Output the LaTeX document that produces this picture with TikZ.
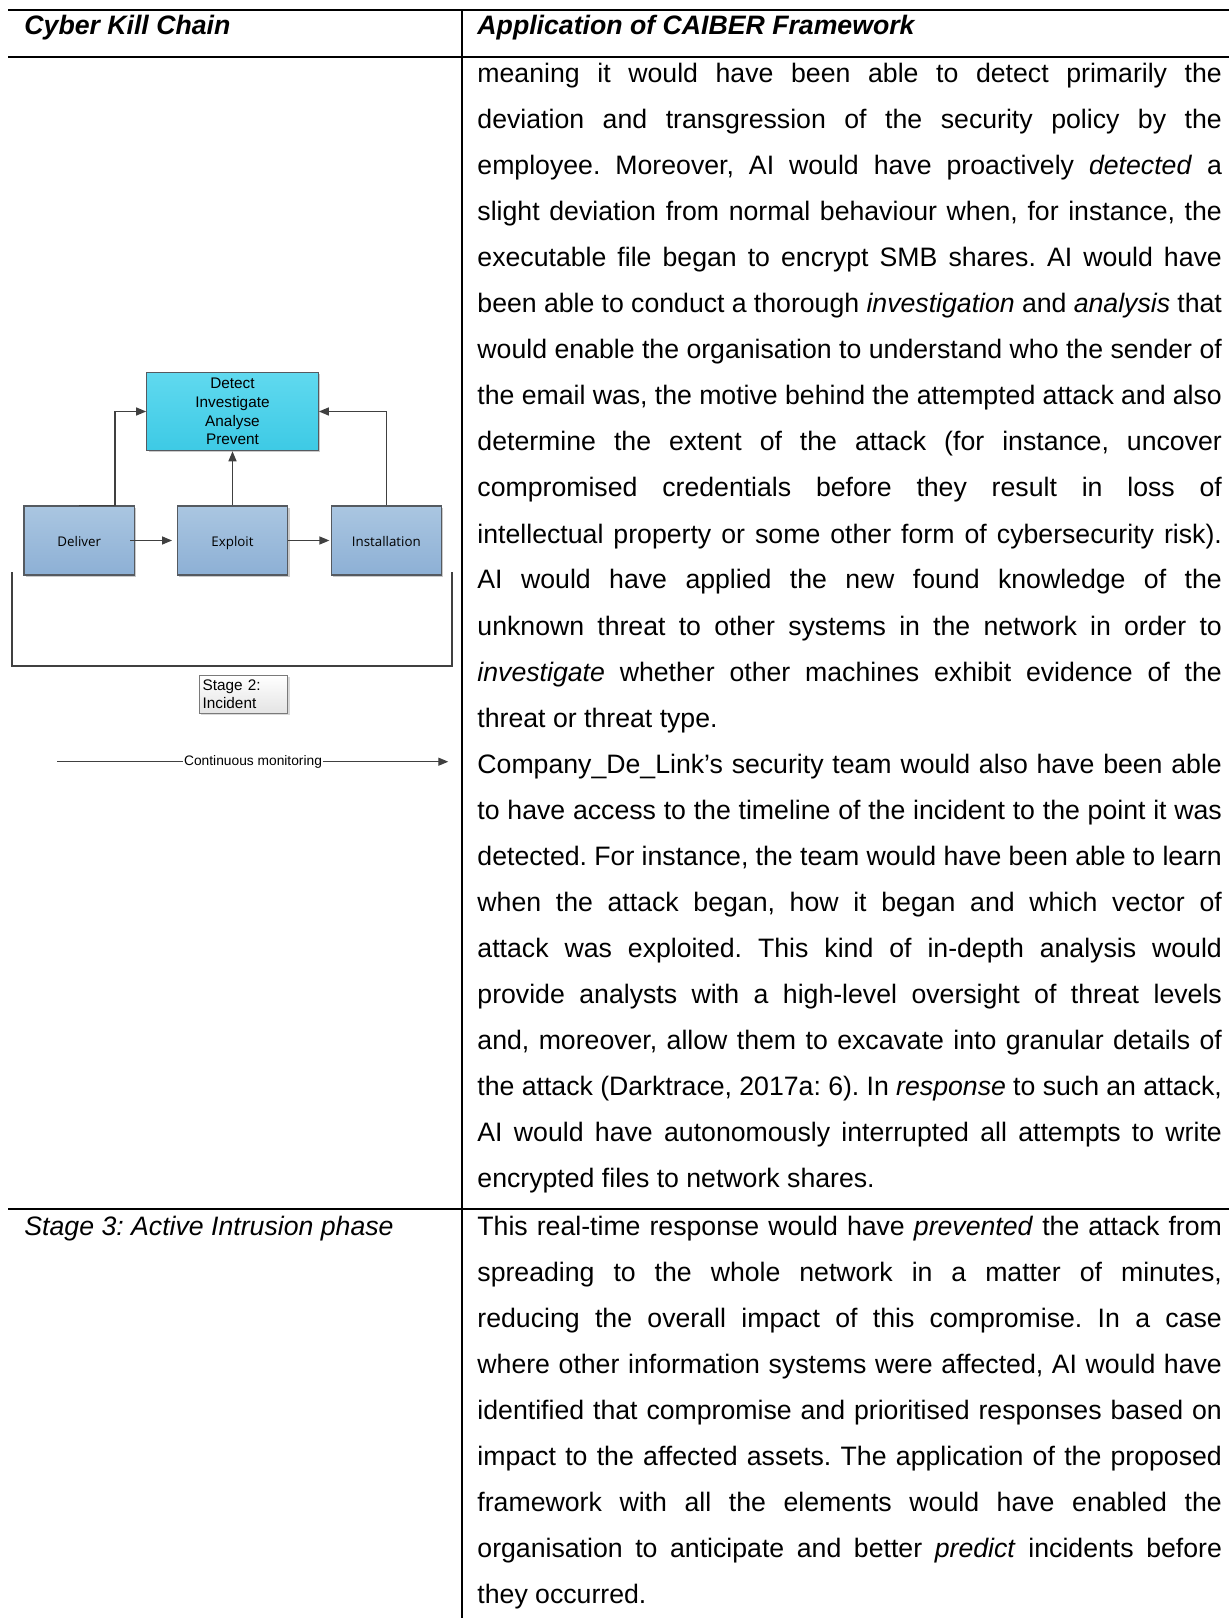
\documentclass[tikz,border=0pt]{standalone}
\usepackage{fontspec}
\setmainfont{Liberation Sans}
\newfontfamily\shapefont{Open Sans}
\usetikzlibrary{arrows.meta,shadows}

\definecolor{rulecol}{HTML}{000000}
\definecolor{linkcol}{HTML}{404040}
\definecolor{stepTop}{HTML}{AAC6E1}
\definecolor{stepBot}{HTML}{8DB0D5}
\definecolor{stepEdge}{HTML}{555A60}
\definecolor{coreTop}{HTML}{60D9EF}
\definecolor{coreBot}{HTML}{3DCAE5}
\definecolor{noteBot}{HTML}{E4E4E4}
\definecolor{noteEdge}{HTML}{7A7A7A}

% width of the justified text column
\newlength\colw
\setlength\colw{335pt}
\newcommand\jline[1]{\makebox[\colw][s]{#1}}
\frenchspacing

\tikzset{
  tablerule/.style={draw=rulecol, line width=0.8pt},
  body/.style={anchor=base west, inner sep=0pt, font=\fontsize{12}{14}\selectfont},
  stepbox/.style={draw=stepEdge, line width=0.5pt, top color=stepTop, bottom color=stepBot,
    minimum width=49.7pt, minimum height=31pt, inner sep=0pt,
    text height=6.5pt, text depth=1.2pt,
    font=\shapefont\fontsize{6}{7}\selectfont,
    drop shadow={shadow xshift=0.8pt, shadow yshift=-0.8pt, opacity=0.35, fill=black!60}},
  corebox/.style={draw=stepEdge, line width=0.5pt, top color=coreTop, bottom color=coreBot,
    minimum width=77.2pt, minimum height=35.3pt, inner sep=0pt, align=center,
    font=\fontsize{6.9}{8.46}\selectfont,
    drop shadow={shadow xshift=0.8pt, shadow yshift=-0.8pt, opacity=0.35, fill=black!60}},
  notebox/.style={draw=noteEdge, line width=0.5pt, top color=white, bottom color=noteBot,
    text width=36.8pt, inner xsep=1.5pt, inner ysep=0pt, minimum height=17.1pt, align=left,
    font=\fontsize{6.9}{8}\selectfont,
    drop shadow={shadow xshift=0.8pt, shadow yshift=-0.8pt, opacity=0.3, fill=black!50}},
  link/.style={draw=linkcol, line width=0.6pt, -{Triangle[length=4.5pt,width=3.6pt]}},
  frame/.style={draw=linkcol, line width=0.6pt},
}

\begin{document}
\begin{tikzpicture}[x=0.45pt, y=-0.45pt]
\useasboundingbox (0,0) rectangle (1229,1618);

% ---------- table rules ----------
\draw[tablerule] (8,10) -- (1229,10);
\draw[tablerule] (8,56.7) -- (1229,56.7);
\draw[tablerule] (8,1209.3) -- (1229,1209.3);
\draw[tablerule] (462,10) -- (462,1618);

% ---------- header ----------
\node[body, font=\fontsize{12}{14}\selectfont\bfseries\itshape] (hLeft) at (24,35) {Cyber Kill Chain};
\node[body, font=\fontsize{12}{14}\selectfont\bfseries\itshape] (hRight) at (477,35) {Application of CAIBER Framework};

% ---------- stage 2 text ----------
\node[body] (t01) at (477,83)   {\jline{meaning it would have been able to detect primarily the}};
\node[body] (t02) at (477,129)  {\jline{deviation and transgression of the security policy by the}};
\node[body] (t03) at (477,175)  {\jline{employee. Moreover, AI would have proactively \textit{detected} a}};
\node[body] (t04) at (477,221)  {\jline{slight deviation from normal behaviour when, for instance, the}};
\node[body] (t05) at (477,267)  {\jline{executable file began to encrypt SMB shares. AI would have}};
\node[body] (t06) at (477,313)  {\jline{been able to conduct a thorough \textit{investigation} and \textit{analysis} that}};
\node[body] (t07) at (477,359)  {\jline{would enable the organisation to understand who the sender of}};
\node[body] (t08) at (477,405)  {\jline{the email was, the motive behind the attempted attack and also}};
\node[body] (t09) at (477,451)  {\jline{determine the extent of the attack (for instance, uncover}};
\node[body] (t10) at (477,497)  {\jline{compromised credentials before they result in loss of}};
\node[body] (t11) at (477,543)  {\jline{intellectual property or some other form of cybersecurity risk).}};
\node[body] (t12) at (477,589)  {\jline{AI would have applied the new found knowledge of the}};
\node[body] (t13) at (477,635)  {\jline{unknown threat to other systems in the network in order to}};
\node[body] (t14) at (477,681)  {\jline{\textit{investigate} whether other machines exhibit evidence of the}};
\node[body] (t15) at (477,727)  {threat or threat type.};
\node[body] (t16) at (477,773)  {\jline{Company\_De\_Link’s security team would also have been able}};
\node[body] (t17) at (477,819)  {\jline{to have access to the timeline of the incident to the point it was}};
\node[body] (t18) at (477,865)  {\jline{detected. For instance, the team would have been able to learn}};
\node[body] (t19) at (477,911)  {\jline{when the attack began, how it began and which vector of}};
\node[body] (t20) at (477,957)  {\jline{attack was exploited. This kind of in-depth analysis would}};
\node[body] (t21) at (477,1003) {\jline{provide analysts with a high-level oversight of threat levels}};
\node[body] (t22) at (477,1049) {\jline{and, moreover, allow them to excavate into granular details of}};
\node[body] (t23) at (477,1095) {\jline{the attack (Darktrace, 2017a: 6). In \textit{response} to such an attack,}};
\node[body] (t24) at (477,1141) {\jline{AI would have autonomously interrupted all attempts to write}};
\node[body] (t25) at (477,1187) {encrypted files to network shares.};

% ---------- stage 3 ----------
\node[body, font=\fontsize{12}{14}\selectfont\itshape] (s3) at (24,1235) {Stage 3: Active Intrusion phase};
\node[body] (u01) at (477,1235) {\jline{This real-time response would have \textit{prevented} the attack from}};
\node[body] (u02) at (477,1281) {\jline{spreading to the whole network in a matter of minutes,}};
\node[body] (u03) at (477,1327) {\jline{reducing the overall impact of this compromise. In a case}};
\node[body] (u04) at (477,1373) {\jline{where other information systems were affected, AI would have}};
\node[body] (u05) at (477,1419) {\jline{identified that compromise and prioritised responses based on}};
\node[body] (u06) at (477,1465) {\jline{impact to the affected assets. The application of the proposed}};
\node[body] (u07) at (477,1511) {\jline{framework with all the elements would have enabled the}};
\node[body] (u08) at (477,1557) {\jline{organisation to anticipate and better \textit{predict} incidents before}};
\node[body] (u09) at (477,1603) {they occurred.};

% ---------- kill chain diagram ----------
\node[corebox] (dt) at (232.5,411.5) {Detect\\Investigate\\Analyse\\Prevent};
\node[stepbox] (dl) at (79.2,540.5)  {Deliver};
\node[stepbox] (ex) at (232.5,540.5) {Exploit};
\node[stepbox] (in) at (386.3,540.5) {Installation};

\draw[link] ([xshift=-2.2pt]dl.east) -- ([xshift=-2.1pt]ex.west);
\draw[link] (ex.east) -- ([xshift=-0.5pt]in.west);
\draw[link] (ex.north) -- (dt.south);
\draw[link] (dl.north) -- ++(35.8,0) |- (dt.west);
\draw[link] (in.north) |- (dt.east);

% bracket under the chain
\coordinate (brL) at (12,572);
\coordinate (brR) at (452,572);
\draw[frame] (brL) -- (brL |- 0,666) -- (brR |- 0,666) -- (brR);

\node[notebox] (st2) at (243.5,694.3) {Stage 2:\\Incident};

% continuous monitoring timeline
\coordinate (cmS) at (57,761.7);
\coordinate (cmE) at (448.3,761.7);
\draw[link] (cmS) -- (cmE)
  node[pos=0.501, fill=white, inner xsep=0.3pt, inner ysep=0.5pt, font=\fontsize{6.2}{7}\selectfont] (cm) {Continuous monitoring};

\end{tikzpicture}
\end{document}
